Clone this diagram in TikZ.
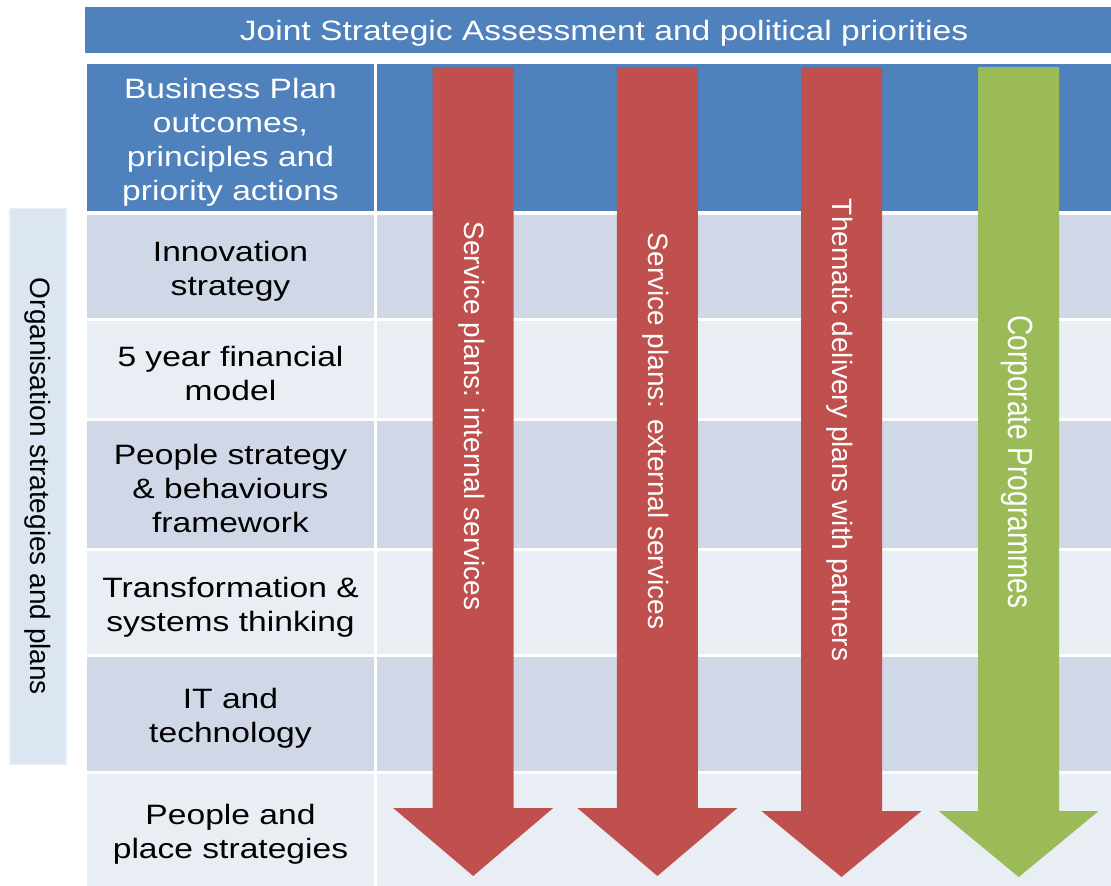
\documentclass[tikz,border=0pt]{standalone}
\usepackage{fontspec}
\setmainfont{Liberation Sans}[FakeStretch=1.2]
\newfontfamily\rotfont{Liberation Sans}
\definecolor{hdrblue}{HTML}{4F81BD}
\definecolor{rowdark}{HTML}{D0D8E8}
\definecolor{rowlight}{HTML}{E9EDF4}
\definecolor{arrred}{HTML}{C0504D}
\definecolor{arrgreen}{HTML}{9BBB59}
\definecolor{sideblue}{HTML}{DCE6F2}
\definecolor{sideedge}{HTML}{E9EFF8}
\newcommand\tstrut{\rule{0pt}{29pt}}
\tikzset{
  cellbox/.style={anchor=north west, inner sep=0pt, outer sep=0pt, align=center,
    font=\fontsize{28pt}{34pt}\selectfont},
  leftcell/.style={cellbox, minimum width=287pt},
  rightcell/.style={cellbox, minimum width=734pt},
  arrtext/.style={rotate=-90, text=white, inner sep=0pt, font=\rotfont\fontsize{28pt}{34pt}\selectfont},
}
\newcommand\downarrowshape[5]{% colour, centre x, top y, head base y, tip y
  \fill[#1] (#2-40.5,#3) -- (#2+40.5,#3) -- (#2+40.5,#4) -- (#2+80,#4)
    -- (#2,#5) -- (#2-80,#4) -- (#2-40.5,#4) -- cycle;}
\begin{document}
\begin{tikzpicture}[x=1pt,y=-1pt]
\useasboundingbox (0,0) rectangle (1111,886);
\fill[white] (0,0) rectangle (1111,886);
% top bar
\node[cellbox, fill=hdrblue, text=white, minimum width=1038pt, minimum height=46pt] (top) at (85,7)
  {\rule{0pt}{26pt}Joint Strategic Assessment and political priorities};
% side label
\node[rotate=-90, fill=sideblue, draw=sideedge, line width=1.2pt, minimum width=556pt, minimum height=56pt,
  inner sep=0pt, font=\rotfont\fontsize{28pt}{34pt}\selectfont] (side) at (38,486.5)
  {Organisation strategies and plans};
% table rows: left cells
\node[leftcell, fill=hdrblue, text=white, minimum height=147pt] (l1) at (87,64)
  {\tstrut Business Plan\\outcomes,\\principles and\\priority actions};
\node[leftcell, fill=rowdark, minimum height=103pt] (l2) at (87,215) {\tstrut Innovation\\strategy};
\node[leftcell, fill=rowlight, minimum height=97pt] (l3) at (87,321) {\tstrut 5 year financial\\model};
\node[leftcell, fill=rowdark, minimum height=127pt] (l4) at (87,421) {\tstrut People strategy\\\& behaviours\\framework};
\node[leftcell, fill=rowlight, minimum height=103pt] (l5) at (87,551) {\tstrut Transformation \&\\systems thinking};
\node[leftcell, fill=rowdark, minimum height=114pt] (l6) at (87,657) {\tstrut IT and\\technology};
\node[leftcell, fill=rowlight, minimum height=112pt] (l7) at (87,774) {\tstrut People and\\place strategies};
% right cells
\node[rightcell, fill=hdrblue, minimum height=147pt] (c1) at (377,64) {};
\node[rightcell, fill=rowdark, minimum height=103pt] (c2) at (377,215) {};
\node[rightcell, fill=rowlight, minimum height=97pt] (c3) at (377,321) {};
\node[rightcell, fill=rowdark, minimum height=127pt] (c4) at (377,421) {};
\node[rightcell, fill=rowlight, minimum height=103pt] (c5) at (377,551) {};
\node[rightcell, fill=rowdark, minimum height=114pt] (c6) at (377,657) {};
\node[rightcell, fill=rowlight, minimum height=112pt] (c7) at (377,774) {};
% arrows
\downarrowshape{arrred}{473.2}{67}{808}{876}
\downarrowshape{arrred}{657.4}{67}{808}{876}
\downarrowshape{arrred}{841.5}{67}{811}{877}
\downarrowshape{arrgreen}{1018.7}{67}{811}{877}
\node[arrtext] (a1) at (472,416) {Service plans: internal services};
\node[arrtext] (a2) at (656,431) {Service plans: external services};
\node[arrtext] (a3) at (840,430) {Thematic delivery plans with partners};
\node[arrtext] (a4) at (1017,462) {\scalebox{1}[1.25]{Corporate Programmes}};
\end{tikzpicture}
\end{document}
